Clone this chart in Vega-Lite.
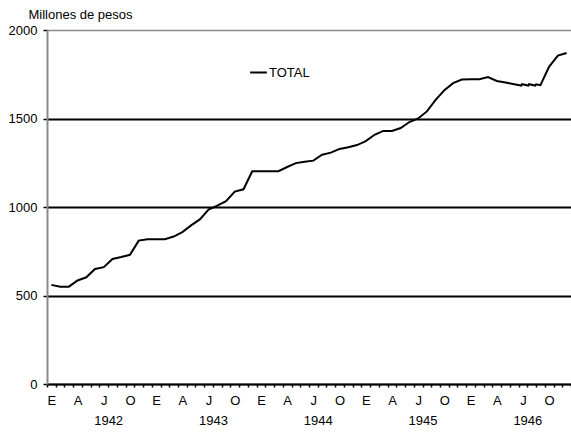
{
  "$schema": "https://vega.github.io/schema/vega-lite/v6.json",
  "width": 524,
  "height": 354,
  "autosize": "none",
  "padding": {"left": 47, "top": 30, "right": 0, "bottom": 48},
  "background": "white",
  "config": {
    "view": {"stroke": null},
    "font": "Liberation Sans",
    "axis": {"labelFont": "Liberation Sans", "labelFontSize": 13, "labelColor": "black", "titleFont": "Liberation Sans", "titleColor": "black"}
  },
  "data": {
    "values": [
      {"t": 0, "v": 560}, {"t": 1, "v": 550}, {"t": 2, "v": 550}, {"t": 3, "v": 585},
      {"t": 4, "v": 603}, {"t": 5, "v": 650}, {"t": 6, "v": 660}, {"t": 7, "v": 706},
      {"t": 8, "v": 717}, {"t": 9, "v": 730}, {"t": 10, "v": 810}, {"t": 11, "v": 818},
      {"t": 12, "v": 818}, {"t": 13, "v": 818}, {"t": 14, "v": 833}, {"t": 15, "v": 858},
      {"t": 16, "v": 896}, {"t": 17, "v": 930}, {"t": 18, "v": 985}, {"t": 19, "v": 1008},
      {"t": 20, "v": 1033}, {"t": 21, "v": 1087}, {"t": 22, "v": 1100}, {"t": 23, "v": 1202},
      {"t": 24, "v": 1202}, {"t": 25, "v": 1202}, {"t": 26, "v": 1202}, {"t": 27, "v": 1226},
      {"t": 28, "v": 1248}, {"t": 29, "v": 1255}, {"t": 30, "v": 1262}, {"t": 31, "v": 1295},
      {"t": 32, "v": 1307}, {"t": 33, "v": 1328}, {"t": 34, "v": 1338}, {"t": 35, "v": 1350},
      {"t": 36, "v": 1372}, {"t": 37, "v": 1408}, {"t": 38, "v": 1430}, {"t": 39, "v": 1430},
      {"t": 40, "v": 1446}, {"t": 41, "v": 1480}, {"t": 42, "v": 1500}, {"t": 43, "v": 1540},
      {"t": 44, "v": 1605}, {"t": 45, "v": 1660}, {"t": 46, "v": 1700}, {"t": 47, "v": 1720},
      {"t": 48, "v": 1722}, {"t": 49, "v": 1722}, {"t": 50, "v": 1734}, {"t": 51, "v": 1712},
      {"t": 52, "v": 1703}, {"t": 53, "v": 1694}, {"t": 53.8, "v": 1686}, {"t": 53.9, "v": 1694},
      {"t": 54.6, "v": 1686}, {"t": 54.7, "v": 1694}, {"t": 55.4, "v": 1686}, {"t": 55.5, "v": 1693},
      {"t": 56, "v": 1688}, {"t": 57, "v": 1793}, {"t": 58, "v": 1855}, {"t": 59, "v": 1870}
    ]
  },
  "encoding": {
    "y": {
      "field": "v",
      "type": "quantitative",
      "scale": {"domain": [0, 2000], "nice": false, "zero": true},
      "axis": {
        "values": [0, 500, 1000, 1500, 2000],
        "format": "d",
        "grid": true,
        "gridColor": {"condition": {"test": "datum.value == 2000", "value": "#8a8a8a"}, "value": "black"},
        "gridWidth": {"condition": {"test": "datum.value == 2000", "value": 1.5}, "value": 2},
        "domainColor": "#8a8a8a",
        "domainWidth": 2,
        "tickColor": "black",
        "tickSize": 4,
        "tickWidth": 1.5,
        "labelPadding": 6,
        "title": "Millones de pesos",
        "titleAngle": 0,
        "titleX": -19,
        "titleY": -12,
        "titleAlign": "left",
        "titleBaseline": "alphabetic",
        "titleFontWeight": "normal",
        "titleFontSize": 13
      }
    }
  },
  "layer": [
    {
      "mark": {"type": "line", "strokeWidth": 2, "clip": false},
      "encoding": {
        "x": {
          "field": "t",
          "type": "quantitative",
          "scale": {"domain": [-0.5, 59.5], "nice": false, "zero": false},
          "axis": {
            "orient": "bottom",
            "title": null,
            "grid": false,
            "values": [-0.5, 0.5, 1.5, 2.5, 3.5, 4.5, 5.5, 6.5, 7.5, 8.5, 9.5, 10.5, 11.5, 12.5, 13.5, 14.5, 15.5, 16.5, 17.5, 18.5, 19.5, 20.5, 21.5, 22.5, 23.5, 24.5, 25.5, 26.5, 27.5, 28.5, 29.5, 30.5, 31.5, 32.5, 33.5, 34.5, 35.5, 36.5, 37.5, 38.5, 39.5, 40.5, 41.5, 42.5, 43.5, 44.5, 45.5, 46.5, 47.5, 48.5, 49.5, 50.5, 51.5, 52.5, 53.5, 54.5, 55.5, 56.5, 57.5, 58.5, 59.5],
            "labelExpr": "((datum.value + 0.5) % 3 == 0 && datum.value < 59) ? ['E','A','J','O'][((datum.value + 0.5) / 3) % 4] : ''",
            "labelOffset": 4.37,
            "labelOverlap": false,
            "labelFlush": false,
            "tickSize": 3,
            "tickColor": "black",
            "tickWidth": 1.5,
            "domainColor": "black",
            "domainWidth": 1.5,
            "labelPadding": 7
          }
        },
        "color": {
          "datum": "TOTAL",
          "type": "nominal",
          "scale": {"range": ["black"]},
          "legend": {
            "title": null,
            "orient": "none",
            "legendX": 202,
            "legendY": 33,
            "padding": 0,
            "symbolType": "stroke",
            "symbolSize": 280,
            "symbolStrokeWidth": 2,
            "symbolStrokeColor": "black",
            "labelOffset": 1,
            "labelFontSize": 13,
            "labelFont": "Liberation Sans",
            "labelColor": "black"
          }
        }
      }
    },
    {
      "mark": {"type": "line", "opacity": 0},
      "encoding": {
        "x": {
          "field": "t",
          "type": "quantitative",
          "scale": {"domain": [-0.5, 59.5], "nice": false, "zero": false},
          "axis": {
            "orient": "bottom",
            "title": null,
            "grid": false,
            "values": [6.5, 18.5, 30.5, 42.5, 54.5],
            "labelExpr": "'' + (1942 + (datum.value - 6.5) / 12)",
            "ticks": false,
            "domain": false,
            "labelPadding": 30,
            "labelOverlap": false,
            "labelFlush": false
          }
        }
      }
    }
  ],
  "resolve": {"axis": {"x": "independent"}}
}
